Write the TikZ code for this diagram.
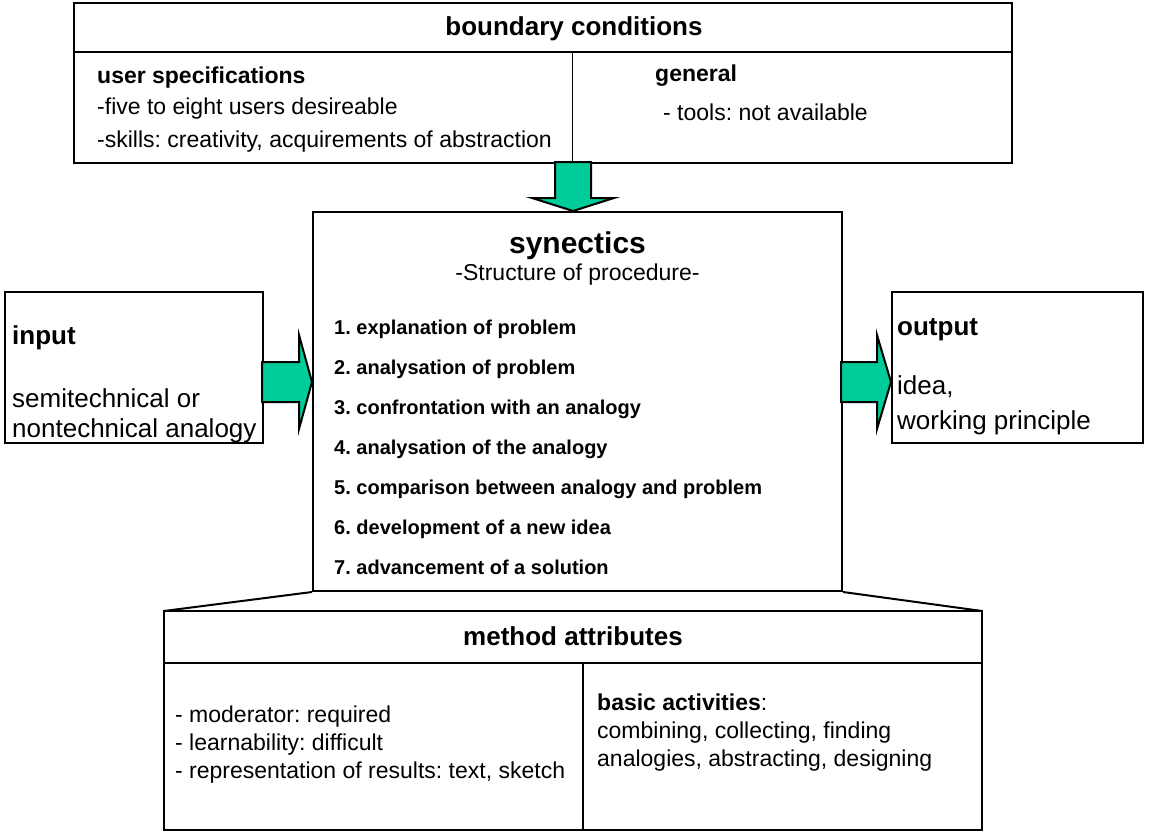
\documentclass[tikz,border=0pt]{standalone}
\usepackage{fontspec}
\setmainfont{Liberation Sans}
\usetikzlibrary{calc}
\definecolor{arrowgreen}{RGB}{0,204,153}
\frenchspacing

\begin{document}
\begin{tikzpicture}[x=1pt,y=-1pt,
  box/.style={draw,line width=2pt,fill=white,inner sep=0},
  flow/.style={draw,line width=2pt,fill=arrowgreen,line join=miter},
  head/.style={font=\bfseries\fontsize{26}{30}\selectfont,inner sep=0,anchor=base},
  sub/.style={font=\bfseries\fontsize{23}{27}\selectfont,inner sep=0,anchor=base west},
  txt/.style={font=\fontsize{23}{27}\selectfont,inner sep=0,anchor=base west},
  big/.style={font=\fontsize{26}{30}\selectfont,inner sep=0,anchor=base west},
  stage/.style={font=\bfseries\fontsize{20}{24}\selectfont,inner sep=0,anchor=base west}]
\useasboundingbox (0,0) rectangle (1151,832);

% boxes
\node[box,minimum width=938,minimum height=160](bc) at (543,83) {};
\node[box,minimum width=529,minimum height=379](syn) at (577.5,401.5) {};
\node[box,minimum width=258,minimum height=151](inp) at (134,367.5) {};
\node[box,minimum width=251,minimum height=151](out) at (1017.5,367.5) {};
\draw[line width=2pt] (syn.south west) -- (164,611);
\draw[line width=2pt] (syn.south east) -- (982,611);
\node[box,minimum width=818,minimum height=219](meth) at (573,720.5) {};

% inner lines
\draw[line width=2pt] (bc.west |- 0,52) -- (bc.east |- 0,52);
\draw[line width=1pt] (572,52) -- (bc.south -| 572,0);
\draw[line width=2pt] (meth.west |- 0,663) -- (meth.east |- 0,663);
\draw[line width=2pt] (583,663) -- (meth.south -| 583,0);

% block arrows
\coordinate (tipT) at ($(syn.north)+(-4.5,0)$);
\coordinate (tipL) at ($(syn.west)+(0,-19.5)$);
\coordinate (tipR) at ($(out.west)+(0,14.5)$);
\draw[flow] ($(tipT)+(-18,-49)$) -- ($(tipT)+(-18,-13)$) -- ($(tipT)+(-41,-13)$) -- (tipT)
  -- ($(tipT)+(41,-13)$) -- ($(tipT)+(18,-13)$) -- ($(tipT)+(18,-49)$) -- cycle;
\draw[flow] ($(tipL)+(-50,-20)$) -- ($(tipL)+(-13,-20)$) -- ($(tipL)+(-13,-47)$) -- (tipL)
  -- ($(tipL)+(-13,47)$) -- ($(tipL)+(-13,20)$) -- ($(tipL)+(-50,20)$) -- cycle;
\draw[flow] ($(tipR)+(-50,-20)$) -- ($(tipR)+(-14,-20)$) -- ($(tipR)+(-14,-47)$) -- (tipR)
  -- ($(tipR)+(-14,47)$) -- ($(tipR)+(-14,20)$) -- ($(tipR)+(-50,20)$) -- cycle;

% boundary conditions
\node[head](bctitle) at (574,36) {boundary conditions};
\node[sub](usr) at (97,84) {user specifications};
\node[txt](usr1) at (97,115) {-five to eight users desireable};
\node[txt](usr2) at (97,148) {-skills: creativity, acquirements of abstraction};
\node[sub](gen) at (655,82) {general};
\node[txt](gen1) at (663,121) {- tools: not available};

% synectics
\node[font=\bfseries\fontsize{30}{36}\selectfont,inner sep=0,anchor=base](syntitle) at (577.5,253) {synectics};
\node[font=\fontsize{23}{27}\selectfont,inner sep=0,anchor=base](synsub) at (577.5,280) {-Structure of procedure-};
\node[stage](s1) at (334,334) {1. explanation of problem};
\node[stage](s2) at (334,374) {2. analysation of problem};
\node[stage](s3) at (334,414) {3. confrontation with an analogy};
\node[stage](s4) at (334,454) {4. analysation of the analogy};
\node[stage](s5) at (334,494) {5. comparison between analogy and problem};
\node[stage](s6) at (334,534) {6. development of a new idea};
\node[stage](s7) at (334,574) {7. advancement of a solution};

% input / output
\node[big,font=\bfseries\fontsize{26}{30}\selectfont](inptitle) at (12,344) {input};
\node[big](inp1) at (12,407) {semitechnical or};
\node[big](inp2) at (12,437) {nontechnical analogy};
\node[big,font=\bfseries\fontsize{26}{30}\selectfont](outtitle) at (897,335) {output};
\node[big](out1) at (897,394) {idea,};
\node[big](out2) at (897,429) {working principle};

% method attributes
\node[head](mtitle) at (573,645) {method attributes};
\node[txt](m1) at (175,722) {- moderator: required};
\node[txt](m2) at (175,750) {- learnability: difficult};
\node[txt](m3) at (175,778) {- representation of results: text, sketch};
\node[txt](a1) at (597,710) {{\bfseries basic activities}:};
\node[txt](a2) at (597,738) {combining, collecting, finding};
\node[txt](a3) at (597,766) {analogies, abstracting, designing};
\end{tikzpicture}
\end{document}
